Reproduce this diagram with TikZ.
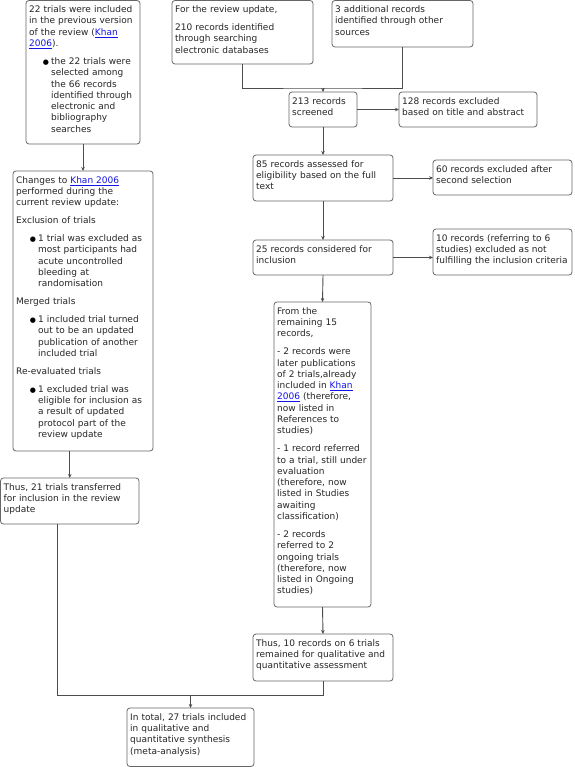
\documentclass[tikz,border=0pt]{standalone}
\usepackage{fontspec}
\setmainfont{DejaVu Sans}
\usetikzlibrary{arrows.meta}
\definecolor{linkblue}{RGB}{20,20,230}
\newcommand\lnk[1]{\textcolor{linkblue}{\underline{#1}}}
\newcommand\mydot{{\fontsize{7}{7}\selectfont ●}}
\newcommand\bul[1]{{\leftskip=22pt\noindent\llap{\color{black}\mydot\hspace{2.2pt}}#1\par}}
\newcommand\mybox[6]{%
  \pgfmathsetmacro\mybw{#4-#2}\pgfmathsetmacro\mybh{#5-#3}\pgfmathsetmacro\mytw{#4-#2+30}%
  \node[boxst, minimum width=\mybw pt, minimum height=\mybh pt, anchor=north west] (#1) at (#2,#3) {};
  \node[txt, text width=\mytw pt, anchor=north west] (#1t) at ([shift={(3pt,-4.5pt)}]#1.north west) {\rule{0pt}{7.5pt}#6};
}
\tikzset{
  boxst/.style={draw=black!60, line width=0.8pt, rounded corners=3pt, fill=white, inner sep=0pt, outer sep=0pt},
  txt/.style={inner sep=0pt, align=left, text=black!85,
    font={\fontsize{9}{11.3}\selectfont\setlength{\parskip}{6.6pt}\setlength{\parindent}{0pt}}},
  conn/.style={draw=black!70, line width=0.9pt, -{Stealth[length=4pt,width=3.5pt]}},
  plain/.style={draw=black!70, line width=0.9pt},
}
\begin{document}
\begin{tikzpicture}[x=1pt,y=-1pt]
\useasboundingbox (0,0) rectangle (574,767);
\fill[white] (0,0) rectangle (574,767);

\mybox{b1}{26}{0.5}{140}{144}{22 trials were included\\ in the previous version\\ of the review (\lnk{Khan}\\ \lnk{2006}).\par
\bul{the 22 trials were\\ selected among\\ the 66 records\\ identified through\\ electronic and\\ bibliography\\ searches}}

\mybox{b2}{172}{0.5}{313}{64}{For the review update,\par 210 records identified\\ through searching\\ electronic databases}
\mybox{b3}{332}{0.5}{473}{47}{3 additional records\\ identified through other\\ sources}

\mybox{b4}{289}{92}{357}{127}{213 records\\ screened}
\mybox{b5}{399}{92}{537}{127}{128 records excluded\\ based on title and abstract}
\mybox{b6}{253}{155}{393}{201}{85 records assessed for\\ eligibility based on the full\\ text}
\mybox{b7}{433}{160}{572}{195}{60 records excluded after\\ second selection}
\mybox{b8}{253}{240}{393}{275}{25 records considered for\\ inclusion}
\mybox{b9}{433}{229}{572}{275}{10 records (referring to 6\\ studies) excluded as not\\ fulfilling the inclusion criteria}

\mybox{b10}{274}{302}{371}{607}{From the\\ remaining 15\\ records,\par
- 2 records were\\ later publications\\ of 2 trials,already\\ included in \lnk{Khan}\\ \lnk{2006} (therefore,\\ now listed in\\ References to\\ studies)\par
- 1 record referred\\ to a trial, still under\\ evaluation\\ (therefore, now\\ listed in Studies\\ awaiting\\ classification)\par
- 2 records\\ referred to 2\\ ongoing trials\\ (therefore, now\\ listed in Ongoing\\ studies)}

\mybox{b11}{253}{634}{393}{681}{Thus, 10 records on 6 trials\\ remained for qualitative and\\ quantitative assessment}

\mybox{b12}{13}{171}{153}{451}{Changes to \lnk{Khan 2006}\\ performed during the\\ current review update:\par
Exclusion of trials\par
\bul{1 trial was excluded as\\ most participants had\\ acute uncontrolled\\ bleeding at\\ randomisation}
Merged trials\par
\bul{1 included trial turned\\ out to be an updated\\ publication of another\\ included trial}
Re-evaluated trials\par
\bul{1 excluded trial was\\ eligible for inclusion as\\ a result of updated\\ protocol part of the\\ review update}}

\mybox{b13}{0.5}{478}{139}{524}{Thus, 21 trials transferred\\ for inclusion in the review\\ update}
\mybox{b14}{127}{708}{254}{766.5}{In total, 27 trials included\\ in qualitative and\\ quantitative synthesis\\ (meta-analysis)}

% connectors
\draw[conn] (b1.south) -- (b12.north);
\draw[conn] (b13.north |- b12.south) -- (b13.north);
\coordinate (j1) at (323,88);
\draw[plain] (b2.south) |- (j1) -| (b3.south);
\draw[conn] (j1) -- (b4.north);
\draw[conn] (b4.east) -- (b5.west);
\draw[conn] (b4.south) -- (b6.north);
\draw[conn] (b6.east) -- (b6.east -| b7.west);
\draw[conn] (b6.south) -- (b8.north);
\draw[conn] (b8.east) -- (b8.east -| b9.west);
\draw[conn] (b8.south) -- (b10.north);
\draw[conn] (b10.south) -- (b11.north);
\coordinate (j2) at (57,695);
\draw[plain] (b11.south) |- (j2) -- (j2 |- b13.south);
\draw[conn] (b14.north |- j2) -- (b14.north);
\end{tikzpicture}
\end{document}
